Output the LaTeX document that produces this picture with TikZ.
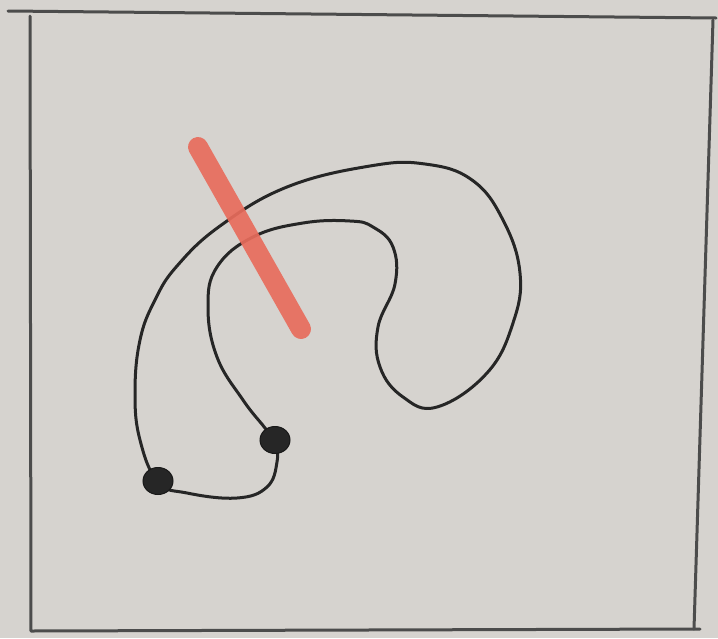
\documentclass[tikz,border=0pt]{standalone}
\usetikzlibrary{shapes.geometric}
\definecolor{paper}{RGB}{214,211,207}
\definecolor{markred}{RGB}{232,108,92}
\begin{document}
\begin{tikzpicture}[x=1pt,y=-1pt,
  frameline/.style={draw=black!70,line width=3pt,line cap=round,line join=round},
  wire/.style={draw=black!85,line width=3pt,line cap=round,line join=round},
  bead/.style={ellipse,fill=black!85,draw=black!90,line width=1pt,inner sep=0pt,minimum width=30pt,minimum height=27pt},
  marker/.style={draw=markred,line width=20pt,line cap=round,opacity=0.92}]
\fill[paper] (0,0) rectangle (718,638);
\useasboundingbox (0,0) rectangle (718,638);
% frame
\coordinate (tl) at (8,11);
\coordinate (tr) at (716,18);
\coordinate (bl) at (31,631);
\coordinate (br) at (700,629);
\draw[frameline] (tl) -- (tr);
\draw[frameline] (30,16) -- (bl) -- (br);
\draw[frameline] (713,20) -- (694,629);
% wire loop
\draw[wire] plot[smooth cycle,tension=0.7] coordinates {
 (158,482) (140,440) (135,393) (140,340) (155,300) (177,266) (220,226)
 (287,187) (370,166) (425,164) (472,180) (503,220) (520,273) (513,323)
 (487,373) (437,407) (403,397) (380,367) (378,327) (395,284) (393,247)
 (373,227) (350,221) (303,223) (253,237) (217,267) (208,307) (217,357)
 (243,400) (265,428) (275,442) (277,462) (267,487) (237,498) (187,493)};
% red marker
\coordinate (ra) at (198,147);
\coordinate (rb) at (301,329);
\draw[marker] (ra) -- (rb);
% beads
\node[bead] (b1) at (158,481) {};
\node[bead] (b2) at (275,440) {};
\end{tikzpicture}
\end{document}
